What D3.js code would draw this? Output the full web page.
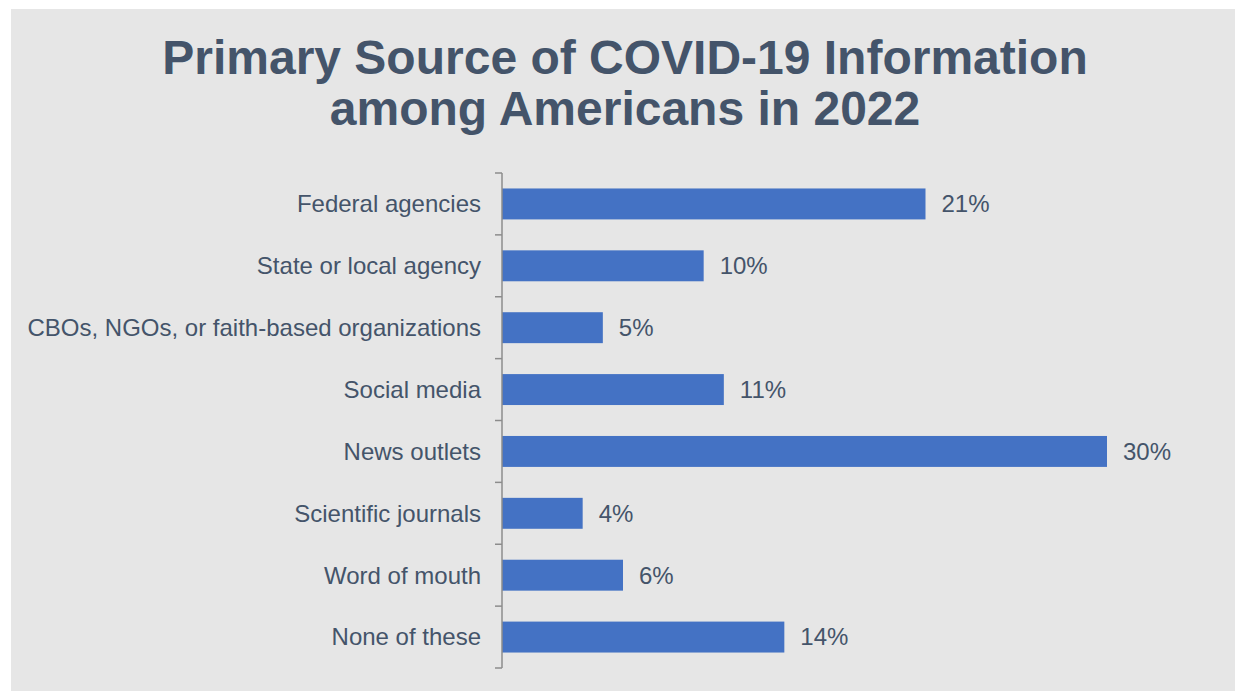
<!DOCTYPE html>
<html>
<head>
<meta charset="utf-8">
<script src="https://cdn.jsdelivr.net/npm/d3@7"></script>
<style>
  html, body { margin: 0; padding: 0; background: #ffffff; }
  svg { display: block; }
</style>
</head>
<body>
<svg id="chart" width="1235" height="691"></svg>
<script>
// Survey results: primary source of COVID-19 information (percent of respondents)
const categories = [
  "Federal agencies",
  "State or local agency",
  "CBOs, NGOs, or faith-based organizations",
  "Social media",
  "News outlets",
  "Scientific journals",
  "Word of mouth",
  "None of these"
];
const values = [21, 10, 5, 11, 30, 4, 6, 14];
const titleLines = ["Primary Source of COVID-19 Information", "among Americans in 2022"];

const W = 1235, H = 691;
const textColor = "#44546a";
const barColor = "#4472c4";
const font = "'Liberation Sans', Arial, Helvetica, sans-serif";

const svg = d3.select("#chart");

// Panel background
svg.append("rect")
  .attr("x", 11).attr("y", 9)
  .attr("width", W - 11).attr("height", H - 9)
  .attr("fill", "#e6e6e6");

// Title
svg.append("text")
  .attr("x", 625)
  .attr("text-anchor", "middle")
  .attr("font-family", font)
  .attr("font-weight", "bold")
  .attr("font-size", 48)
  .attr("fill", textColor)
  .selectAll("tspan")
  .data(titleLines)
  .join("tspan")
  .attr("x", 625)
  .attr("y", (d, i) => 74 + i * 51)
  .text(d => d);

const margin = { left: 502, top: 173, bottom: 668 };

const y = d3.scaleBand()
  .domain(categories)
  .range([margin.top, margin.bottom])
  .paddingInner(0.5)
  .paddingOuter(0.25);

const x = d3.scaleLinear()
  .domain([0, 30])
  .range([margin.left, 1107]);

// Bars
svg.append("g")
  .selectAll("rect")
  .data(categories)
  .join("rect")
  .attr("x", x(0))
  .attr("y", d => y(d))
  .attr("width", (d, i) => x(values[i]) - x(0))
  .attr("height", y.bandwidth())
  .attr("fill", barColor);

// Category axis with ticks at the band boundaries
const axisColor = "#8c8c8c";
const axisG = svg.append("g");
axisG.append("line")
  .attr("x1", margin.left).attr("x2", margin.left)
  .attr("y1", margin.top).attr("y2", margin.bottom)
  .attr("stroke", axisColor).attr("stroke-width", 1.5);

const boundaries = d3.range(categories.length + 1)
  .map(i => margin.top + i * y.step());
axisG.selectAll("line.tick")
  .data(boundaries)
  .join("line")
  .attr("class", "tick")
  .attr("x1", margin.left - 7).attr("x2", margin.left)
  .attr("y1", d => d).attr("y2", d => d)
  .attr("stroke", axisColor).attr("stroke-width", 1.5);

// Category labels
svg.append("g")
  .selectAll("text")
  .data(categories)
  .join("text")
  .attr("x", 481)
  .attr("y", d => y(d) + y.bandwidth() / 2)
  .attr("dy", "0.35em")
  .attr("text-anchor", "end")
  .attr("font-family", font)
  .attr("font-size", 24)
  .attr("fill", textColor)
  .text(d => d);

// Value labels
svg.append("g")
  .selectAll("text")
  .data(categories)
  .join("text")
  .attr("x", (d, i) => x(values[i]) + 16)
  .attr("y", d => y(d) + y.bandwidth() / 2)
  .attr("dy", "0.35em")
  .attr("font-family", font)
  .attr("font-size", 24)
  .attr("fill", textColor)
  .text((d, i) => values[i] + "%");
</script>
</body>
</html>
